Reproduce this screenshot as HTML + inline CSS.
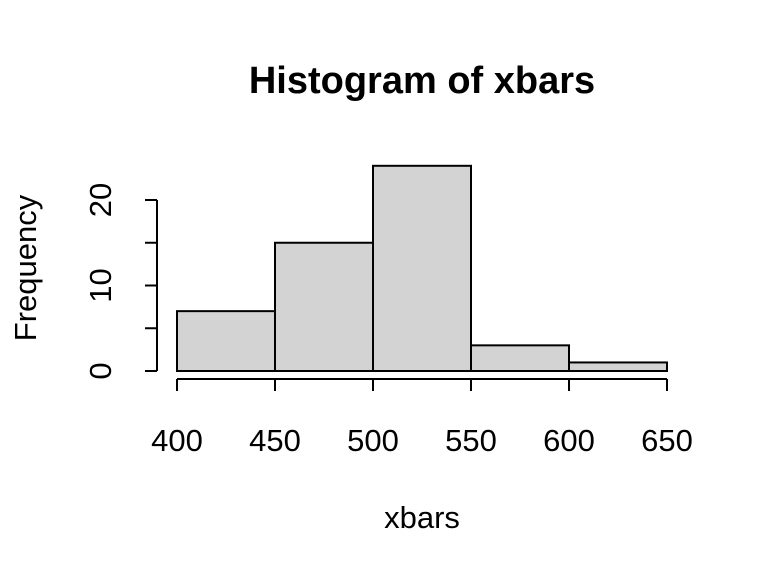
<!DOCTYPE html>
<html><head><meta charset="utf-8">
<style>
body{margin:0;background:#fff;}
svg{display:block;font-family:"Liberation Sans",Arial,sans-serif;}
</style></head>
<body>
<svg id="chart" width="768" height="576">
<text x="422" y="93" text-anchor="middle" style="font-size:38px;font-weight:bold">Histogram of xbars</text>
<text x="422" y="528" text-anchor="middle" style="font-size:31px">xbars</text>
<text transform="translate(36,268) rotate(-90)" text-anchor="middle" style="font-size:31px">Frequency</text>
<g id="bars"></g><g id="xaxis"></g><g id="yaxis"></g>
</svg>
<script>
const binStarts = [400, 450, 500, 550, 600];
const binWidth = 50;
const counts = [7, 15, 24, 3, 1];
const xTicks = [400, 450, 500, 550, 600, 650];
const yTicks = [0, 5, 10, 15, 20];
const yLabelTicks = [0, 10, 20];

const NS = "http://www.w3.org/2000/svg";
const xs = v => 177 + (v - 400) * (667 - 177) / 250;
const ys = v => 371 - v * (371 - 200) / 20;
function mk(tag, attrs, parent) {
  const e = document.createElementNS(NS, tag);
  for (const k in attrs) e.setAttribute(k, attrs[k]);
  parent.appendChild(e);
  return e;
}
const bars = document.getElementById('bars');
binStarts.forEach((b, i) => {
  const r = mk('rect', {x: xs(b), y: ys(counts[i]), width: xs(b + binWidth) - xs(b), height: ys(0) - ys(counts[i]), fill: '#d3d3d3', stroke: '#000', 'stroke-width': 2}, bars);
  
  
});
const xa = document.getElementById('xaxis');
const xl = mk('line', {x1: xs(xTicks[0]), x2: xs(xTicks[xTicks.length - 1]), y1: 379, y2: 379, stroke: '#000', 'stroke-width': 2}, xa);


xTicks.forEach(t => {
  mk('line', {x1: xs(t), x2: xs(t), y1: 379, y2: 391, stroke: '#000', 'stroke-width': 2}, xa);
  const tx = mk('text', {x: xs(t), y: 451, 'text-anchor': 'middle', style: 'font-size:31px'}, xa);
  tx.textContent = t;
  
  
});
const ya = document.getElementById('yaxis');
const yl = mk('line', {x1: 157, x2: 157, y1: ys(yTicks[0]), y2: ys(yTicks[yTicks.length - 1]), stroke: '#000', 'stroke-width': 2}, ya);


yTicks.forEach(t => {
  mk('line', {x1: 145, x2: 157, y1: ys(t), y2: ys(t), stroke: '#000', 'stroke-width': 2}, ya);
});
yLabelTicks.forEach(t => {
  const tx = mk('text', {transform: 'translate(111,' + ys(t) + ') rotate(-90)', 'text-anchor': 'middle', style: 'font-size:31px'}, ya);
  tx.textContent = t;
  
  
});
</script>
</body></html>
